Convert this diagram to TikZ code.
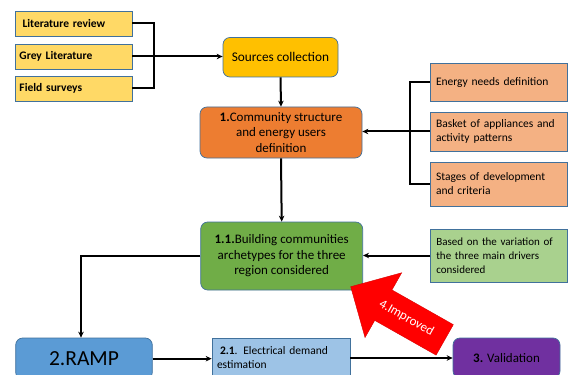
\documentclass[tikz,border=0pt]{standalone}
\usepackage{fontspec}
\setmainfont{Carlito}
\usetikzlibrary{arrows.meta}
\definecolor{cyel}{HTML}{FFD966}
\definecolor{csrc}{HTML}{FFC000}
\definecolor{ccom}{HTML}{ED7D31}
\definecolor{csal}{HTML}{F4B183}
\definecolor{cgrn}{HTML}{70AD47}
\definecolor{clgr}{HTML}{A9D18E}
\definecolor{cramp}{HTML}{5B9BD5}
\definecolor{clbl}{HTML}{9DC3E6}
\definecolor{cval}{HTML}{7030A0}
\definecolor{cbord}{HTML}{41719C}
\begin{document}
\begin{tikzpicture}[x=1pt,y=-1pt,
  box/.style={draw=cbord,line width=0.7pt,inner sep=0pt,align=center},
  rbox/.style={box,rounded corners=7pt},
  conn/.style={line width=2pt,black},
  arr/.style={conn,-{Stealth[length=6pt,width=5.5pt]}},
  sidefont/.style={font=\fontsize{11.5}{14}\selectfont},
  litfont/.style={font=\bfseries\fontsize{11.5}{13}\selectfont}]
\clip (0,0) rectangle (569,374);
\fill[white] (0,0) rectangle (569,374);
% left boxes
\node[box,fill=cyel,minimum width=117pt,minimum height=25pt,litfont,text width=108pt,align=left] (lit) at (73.5,23.5) {\hspace*{3pt}Literature review};
\node[box,fill=cyel,minimum width=117pt,minimum height=25pt,litfont,text width=108pt,align=left] (grey) at (73.5,56.5) {Grey Literature};
\node[box,fill=cyel,minimum width=117pt,minimum height=25pt,litfont,text width=108pt,align=left] (field) at (73.5,88.5) {Field surveys};
% sources
\node[rbox,fill=csrc,minimum width=115pt,minimum height=39.5pt,font=\fontsize{13.3}{16}\selectfont] (src) at (280.5,57.25) {Sources collection};
% community
\node[rbox,fill=ccom,minimum width=162pt,minimum height=51pt,font=\fontsize{13}{15.5}\selectfont] (comm) at (281,132.5) {\textbf{1.}Community structure\\and energy users\\definition};
% right boxes
\node[box,fill=csal,minimum width=137pt,minimum height=38pt,sidefont,text width=125pt,align=left] (energy) at (498.5,82) {Energy needs definition};
\node[box,fill=csal,minimum width=137pt,minimum height=39pt,sidefont,text width=125pt,align=left] (basket) at (498.5,131.5) {Basket of appliances and\\activity patterns};
\node[box,fill=csal,minimum width=137pt,minimum height=44pt,sidefont,text width=125pt,align=left] (stages) at (498.5,184) {Stages of development\\and criteria};
% green
\node[rbox,fill=cgrn,minimum width=162pt,minimum height=68pt,font=\fontsize{13}{15.5}\selectfont] (green) at (281.7,256) {\textbf{1.1.}Building communities\\archetypes for the three\\region considered};
\node[box,fill=clgr,minimum width=136.3pt,minimum height=53pt,font=\fontsize{11}{14}\selectfont,text width=125pt,align=left] (based) at (498.8,255.5) {Based on the variation of\\the three main drivers\\considered};
% bottom
\node[rbox,fill=cramp,minimum width=136.6pt,minimum height=41.4pt,font=\fontsize{21.5}{24}\selectfont] (ramp) at (84,358.7) {2.RAMP};
\node[box,fill=clbl,minimum width=138pt,minimum height=40pt,sidefont,text width=128pt,align=left] (e21) at (281,358) {\hspace*{3pt}\textbf{2.1}. Electrical demand\\estimation};
\node[rbox,fill=cval,minimum width=107pt,minimum height=40pt,font=\fontsize{13}{15}\selectfont] (valid) at (506.5,358) {\textbf{3.} Validation};
% connectors left bracket
\coordinate (bl) at (154,56.5);
\draw[conn] (lit.east) -| (bl) |- (field.east);
\draw[arr] (grey.east) -- (grey.east -| src.west);
\draw[arr] (src.south) -- (comm.north);
% right bracket
\coordinate (br) at (410,131.5);
\draw[conn] (energy.west) -| (br) |- (stages.west);
\draw[arr] (basket.west) -- (basket.west -| comm.east);
\draw[arr] (comm.south) -- (green.north);
\draw[arr] (based.west) -- (based.west -| green.east);
\coordinate (gl) at (81,256);
\draw[arr] (green.west) -- (gl) -- (gl |- ramp.north);
\draw[arr] (ramp.east) -- (ramp.east -| e21.west);
\draw[arr] (e21.east) -- (e21.east -| valid.west);
% red arrow
\begin{scope}[shift={(350.7,286.7)},rotate=-29.5]
\fill[red,draw=red!85!black,line width=0.4pt] (0,0) -- (37.5,-37.2) -- (37.5,-17.5) -- (108,-17.5) -- (108,17.5) -- (37.5,17.5) -- (37.5,37.2) -- cycle;
\node[text=white,font=\fontsize{13}{15}\selectfont,rotate=-29.5,inner sep=0pt] (impr) at (64,0) {4.Improved};
\end{scope}
\end{tikzpicture}
\end{document}
